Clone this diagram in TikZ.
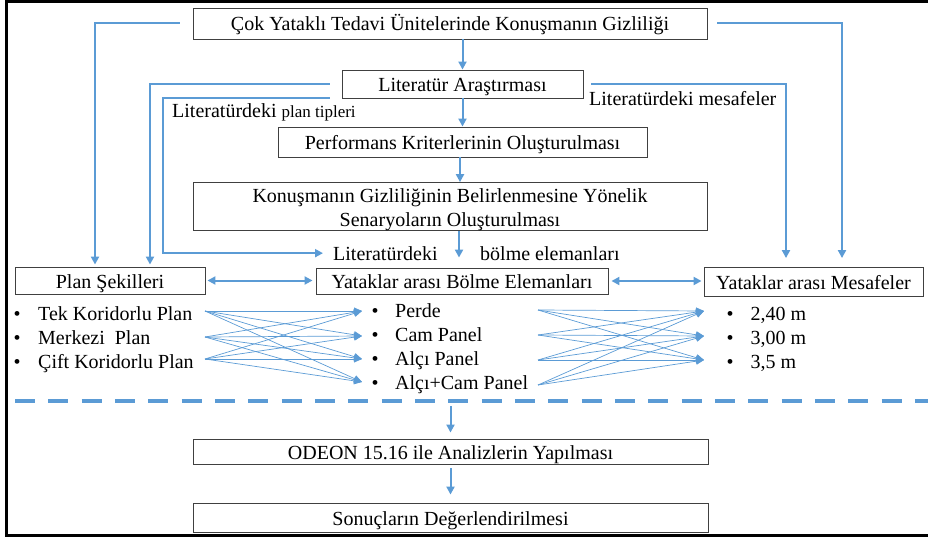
\documentclass[tikz,border=0pt]{standalone}
\usepackage{fontspec}
\setmainfont{Liberation Serif}
\usetikzlibrary{arrows.meta,calc}
\definecolor{lblue}{HTML}{5B9BD5}
\begin{document}
\begin{tikzpicture}[x=1pt,y=-1pt,
  box/.style={draw=black!75,line width=0.9pt,inner sep=0pt,font=\fontsize{20}{23.5}\selectfont},
  sl/.style={text height=17pt,text depth=2pt},
  lbl/.style={inner sep=0pt,anchor=base west,font=\fontsize{20}{24}\selectfont},
  conn/.style={draw=lblue,line width=2pt,-{Triangle[length=8pt,width=8pt]}},
  dconn/.style={draw=lblue,line width=2pt,{Triangle[length=8pt,width=8pt]}-{Triangle[length=8pt,width=8pt]}},
  cross/.style={draw=lblue,line width=0.7pt,-{Triangle[length=8pt,width=7pt]}},
]
\useasboundingbox (0,0) rectangle (928,540);
% outer frame
\draw[line width=3pt] (950,2) -- (6,2) -- (6,535.5) -- (950,535.5);

% boxes
\node[box,sl,minimum width=514pt,minimum height=31pt] (t1) at (450,23.5) {Çok Yataklı Tedavi Ünitelerinde Konuşmanın Gizliliği};
\node[box,sl,minimum width=241pt,minimum height=28pt] (lit) at (462.5,84) {Literatür Araştırması};
\node[box,sl,minimum width=369pt,minimum height=30pt] (perf) at (462.5,142) {Performans Kriterlerinin Oluşturulması};
\node[box,align=center,minimum width=514pt,minimum height=47pt] (sen) at (450,206.5) {\rule{0pt}{20pt}Konuşmanın Gizliliğinin Belirlenmesine Yönelik\\Senaryoların Oluşturulması};
\node[box,sl,minimum width=190pt,minimum height=27pt] (plan) at (110,280.5) {Plan Şekilleri};
\node[box,sl,minimum width=292pt,minimum height=26pt] (bolme) at (462,281) {Yataklar arası Bölme Elemanları};
\node[box,sl,minimum width=219pt,minimum height=29pt] (mes) at (813.5,282) {Yataklar arası Mesafeler};
\node[box,sl,minimum width=515pt,minimum height=25pt] (odeon) at (450.5,451.5) {ODEON 15.16 ile Analizlerin Yapılması};
\node[box,sl,minimum width=515pt,minimum height=29pt] (sonuc) at (450.5,517.5) {Sonuçların Değerlendirilmesi};

% free labels
\node[lbl] (ltip) at (172,118) {Literatürdeki {\fontsize{17}{20}\selectfont plan tipleri}};
\node[lbl] (lmes) at (589,106) {Literatürdeki mesafeler};
\node[lbl] (litb) at (333,260) {Literatürdeki};
\node[lbl] (bel) at (480,260) {bölme elemanları};

% bullet lists
\foreach \t/\y/\n in {Tek Koridorlu Plan/320/pa,Merkezi\ \ Plan/344/pb,Çift Koridorlu Plan/368/pc}
  \node[lbl] (\n) at (13.5,\y) {\makebox[24.5pt][l]{\textbullet}\t};
\foreach \t/\y/\n in {Perde/317.5/ba,Cam Panel/341.5/bb,Alçı Panel/365.5/bc,Alçı+Cam Panel/389.5/bd}
  \node[lbl] (\n) at (371.5,\y) {\makebox[23.5pt][l]{\textbullet}\t};
\foreach \t/\y/\n in {{2,40 m}/320/ma,{3,00 m}/344/mb,{3,5 m}/368/mc}
  \node[lbl] (\n) at (726.5,\y) {\makebox[24pt][l]{\textbullet}\t};

% main flow
\draw[conn] (t1.south -| lit.north) -- (lit.north);
\draw[conn] (lit.south) -- (perf.north);
\draw[conn] ([xshift=-2.5pt]perf.south) -- ([xshift=-2.5pt]perf.south |- sen.north);
\draw[conn] ([xshift=-3pt]bolme.north |- sen.south) -- ([xshift=-3pt,yshift=10pt]bolme.north);

% left feedback lines
\draw[conn] ([xshift=-13pt]t1.west) -| ([xshift=-15pt,yshift=2pt]plan.north);
\draw[conn] ([xshift=-12pt]lit.west) -| ([xshift=40pt,yshift=2pt]plan.north);
\draw[conn] ([xshift=-12pt]lit.south west) -| ([xshift=-170pt]litb.west) -- ([xshift=-10pt]litb.west);

% right lines
\draw[conn] ([xshift=10pt]t1.east) -| ([xshift=28.5pt,yshift=9pt]mes.north);
\draw[conn] ([xshift=8pt]lit.east) -| ([xshift=-27.5pt,yshift=9pt]mes.north);

% double arrows
\draw[dconn] ([xshift=2pt]plan.east) -- ([xshift=-3pt]bolme.west |- plan.east);
\draw[dconn] ([xshift=3pt]bolme.east) -- ([xshift=-2pt]mes.west |- bolme.east);

% cross connections
\coordinate (ls1) at (205,311); \coordinate (ls2) at (205,337); \coordinate (ls3) at (205,359);
\coordinate (lt1) at (362,311); \coordinate (lt2) at (362,336); \coordinate (lt3) at (362,359); \coordinate (lt4) at (362,382);
\coordinate (rs1) at (538,310); \coordinate (rs2) at (538,335); \coordinate (rs3) at (538,360); \coordinate (rs4) at (538,385);
\coordinate (rt1) at (704,311); \coordinate (rt2) at (704,336); \coordinate (rt3) at (704,360);
\foreach \i in {1,2,3} \foreach \j in {1,2,3,4} \draw[cross] (ls\i) -- (lt\j);
\foreach \i in {1,2,3,4} \foreach \j in {1,2,3} \draw[cross] (rs\i) -- (rt\j);

% dashed separator
\coordinate (dl) at (15,401);
\coordinate (dr) at (945,401);
\draw[lblue,line width=4.5pt,dash pattern=on 20pt off 13.33pt] (dl) -- (dr);

% lower flow
\draw[conn] ($(odeon.north |- dl)+(0,5)$) -- ([yshift=6pt]odeon.north);
\draw[conn] ([yshift=-4pt]odeon.south) -- ([yshift=8pt]sonuc.north);
\end{tikzpicture}
\end{document}
